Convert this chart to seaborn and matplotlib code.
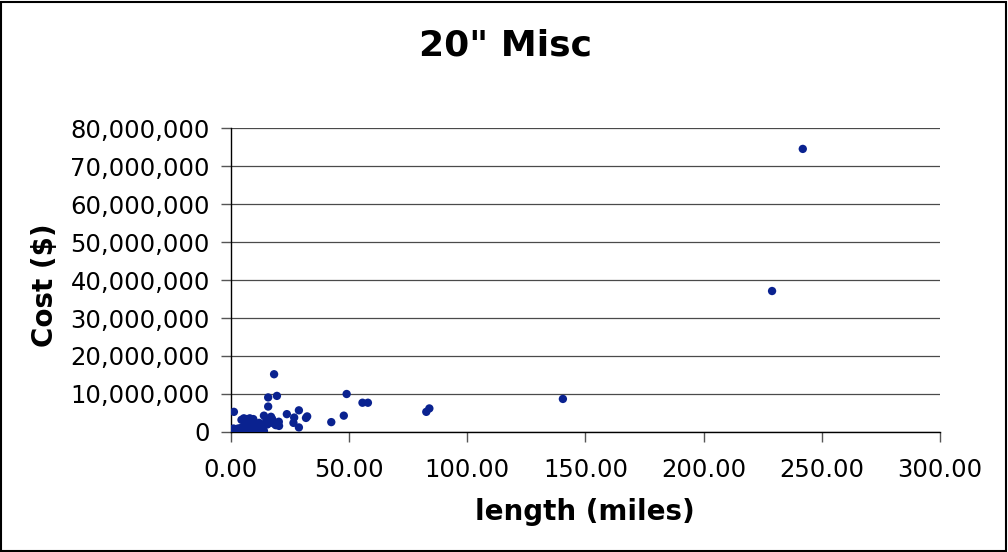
import matplotlib
matplotlib.use("Agg")
import matplotlib.pyplot as plt
import matplotlib.ticker as mticker
from matplotlib.patches import Rectangle
import seaborn as sns
import pandas as pd

# Data: pipeline length (miles) and cost ($ millions)
length_miles = [
    0.3, 0.5, 0.8, 1.0, 1.2, 1.5, 1.8, 2.0, 2.5, 3.0, 3.5, 4.0, 4.5, 5.0,
    5.5, 6.0, 7.0, 8.0, 9.0, 10.0, 11.0, 12.0, 13.0, 14.0,
    4.5, 5.5, 6.5, 7.5, 8.0, 9.0, 9.5, 10.5, 11.0, 6.0, 7.0, 12.0, 13.0,
    14.0, 15.0, 15.5, 16.0, 17.0, 17.5, 18.0, 19.0,
    1.3, 15.8, 15.8, 18.3, 19.5, 20.3, 20.4, 23.7, 26.8, 26.5, 28.8, 28.8,
    31.8, 32.3, 42.5, 47.8, 49.0, 55.7, 58.0, 82.7, 84.0, 140.5, 229.0, 242.0,
]
cost_millions = [
    0.5, 0.3, 0.8, 0.4, 0.9, 0.6, 0.3, 0.7, 0.5, 0.9, 0.4, 1.0, 0.6, 1.2,
    0.8, 0.5, 1.0, 0.7, 1.1, 0.6, 0.9, 0.4, 1.0, 0.3,
    3.2, 3.6, 3.4, 3.0, 3.6, 2.6, 3.4, 2.2, 1.6, 2.0, 1.5, 2.4, 1.8,
    4.3, 3.0, 2.0, 2.6, 4.0, 3.4, 2.3, 1.8,
    5.3, 6.7, 9.1, 15.2, 9.5, 2.7, 1.6, 4.7, 3.8, 2.4, 5.7, 1.2,
    3.7, 4.1, 2.6, 4.3, 10.0, 7.7, 7.7, 5.3, 6.2, 8.7, 37.1, 74.5,
]

x_ticks = [0, 50, 100, 150, 200, 250, 300]
y_ticks = [0, 10e6, 20e6, 30e6, 40e6, 50e6, 60e6, 70e6, 80e6]

df = pd.DataFrame({
    "length (miles)": length_miles,
    "Cost ($)": [c * 1e6 for c in cost_millions],
})

sns.set_style("white")
plt.rcParams["font.family"] = ["DejaVu Sans"]
plt.rcParams["text.color"] = "black"
plt.rcParams["axes.labelcolor"] = "black"
plt.rcParams["xtick.color"] = "black"
plt.rcParams["ytick.color"] = "black"

fig = plt.figure(figsize=(10.08, 5.52), dpi=100)
ax = fig.add_axes([0.229, 0.2174, 0.7034, 0.5507])

sns.scatterplot(data=df, x="length (miles)", y="Cost ($)", ax=ax,
                color="#0a2290", s=36, edgecolor="none", linewidth=0,
                zorder=3, legend=False)

ax.set_xlim(0, 300)
ax.set_ylim(0, 80e6)
ax.set_xticks(x_ticks)
ax.set_yticks(y_ticks)
ax.xaxis.set_major_formatter(mticker.FuncFormatter(lambda v, p: f"{v:.2f}"))
ax.yaxis.set_major_formatter(mticker.FuncFormatter(lambda v, p: f"{v:,.0f}"))

ax.grid(axis="y", color="#4a4a4a", linewidth=0.9)
ax.grid(axis="x", visible=False)
ax.set_axisbelow(True)

for side in ["top", "right"]:
    ax.spines[side].set_visible(False)
for side in ["left", "bottom"]:
    ax.spines[side].set_color("black")
    ax.spines[side].set_linewidth(1.0)

ax.tick_params(axis="x", direction="out", length=7, width=1, color="#555555",
               labelcolor="black", labelsize=17.5, pad=12, bottom=True)
ax.tick_params(axis="y", direction="out", length=7, width=1, color="#555555",
               labelcolor="black", labelsize=17.5, pad=8, left=True)

ax.set_xlabel("length (miles)", fontsize=20, fontweight="bold", color="black")
ax.set_ylabel("Cost ($)", fontsize=20, fontweight="bold", color="black")
ax.xaxis.set_label_coords(0.499, -0.263)
ax.xaxis.label.set_va("center")
ax.yaxis.set_label_coords(-0.262, 0.483)
ax.yaxis.label.set_va("center")

fig.text(0.5015, 0.917, "20\" Misc", fontsize=26, fontweight="bold",
         ha="center", va="center", color="black")

fig.patches.append(Rectangle((0.001, 0.002), 0.997, 0.995, fill=False,
                             edgecolor="black", linewidth=1.5,
                             transform=fig.transFigure, figure=fig))

fig.savefig("out.png", dpi=100)
